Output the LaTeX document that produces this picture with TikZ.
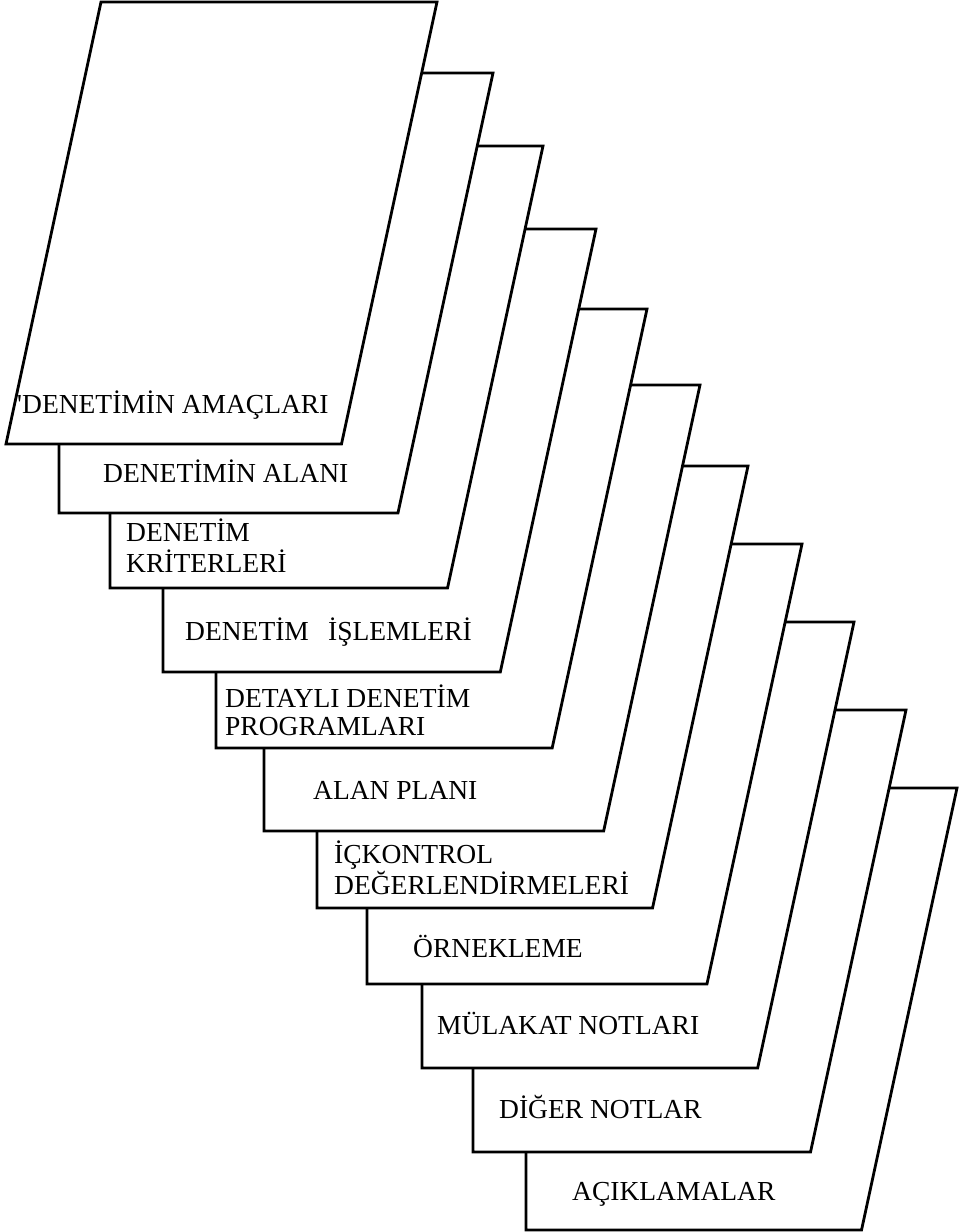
\documentclass[tikz,border=0pt]{standalone}
\usepackage{fontspec}
\setmainfont{Liberation Serif}
\begin{document}
\begin{tikzpicture}[x=1pt,y=-1pt,
  sheet/.style={line width=2.8pt, line join=miter},
  tab/.style={anchor=base west, inner sep=0pt, font=\fontsize{27.5}{28}\selectfont}]
\useasboundingbox (0,0) rectangle (966,1232);

% front sheet
\draw[sheet] (101,2) -- (437,2) -- (341.5,444) -- (6,444) -- cycle;

% sheets behind it: top edge from the sheet in front, slanted right edge,
% bottom edge and the left edge up to the bottom of the sheet in front
% top / right / bottom / left / previous top / previous right / previous bottom
\foreach \t/\r/\b/\l/\pt/\pr/\pb in {
  73/493/513/59/2/437/444,
  146/543/588/110/73/493/513,
  229/596/672/163/146/543/588,
  309/647/748/216/229/596/672,
  385/700/831/264/309/647/748,
  466/748/908/317/385/700/831,
  544/802/984/367/466/748/908,
  622/854/1068/422/544/802/984,
  710/906/1152/473/622/854/1068,
  788/957/1230/526/710/906/1152}
{
  \pgfmathsetmacro\jx{\pr-0.216*(\t-\pt)}
  \pgfmathsetmacro\bx{\r-0.216*(\b-\t)}
  \draw[sheet] (\jx,\t) -- (\r,\t) -- (\bx,\b) -- (\l,\b) -- (\l,\pb);
}

% tab labels
\node[tab] (amac) at (17,413) {\textquotesingle DENETİMİN AMAÇLARI};
\node[tab] (alan) at (103,482) {DENETİMİN ALANI};
\node[tab] (krit) at (126,541) {\begin{tabular}[t]{@{}l@{}}DENETİM\\KRİTERLERİ\end{tabular}};
\node[tab] (isle) at (185,640) {DENETİM\hspace{0.7em}İŞLEMLERİ};
\node[tab] (prog) at (225,707) {\begin{tabular}[t]{@{}l@{}}DETAYLI DENETİM\\PROGRAMLARI\end{tabular}};
\node[tab] (plan) at (313,799) {ALAN PLANI};
\node[tab] (icko) at (334,863) {\begin{tabular}[t]{@{}l@{}}İÇKONTROL\\DEĞERLENDİRMELERİ\end{tabular}};
\node[tab] (orne) at (413,957) {ÖRNEKLEME};
\node[tab] (mula) at (437,1034) {MÜLAKAT NOTLARI};
\node[tab] (dige) at (499,1118) {DİĞER NOTLAR};
\node[tab] (acik) at (572,1200) {AÇIKLAMALAR};
\end{tikzpicture}
\end{document}
